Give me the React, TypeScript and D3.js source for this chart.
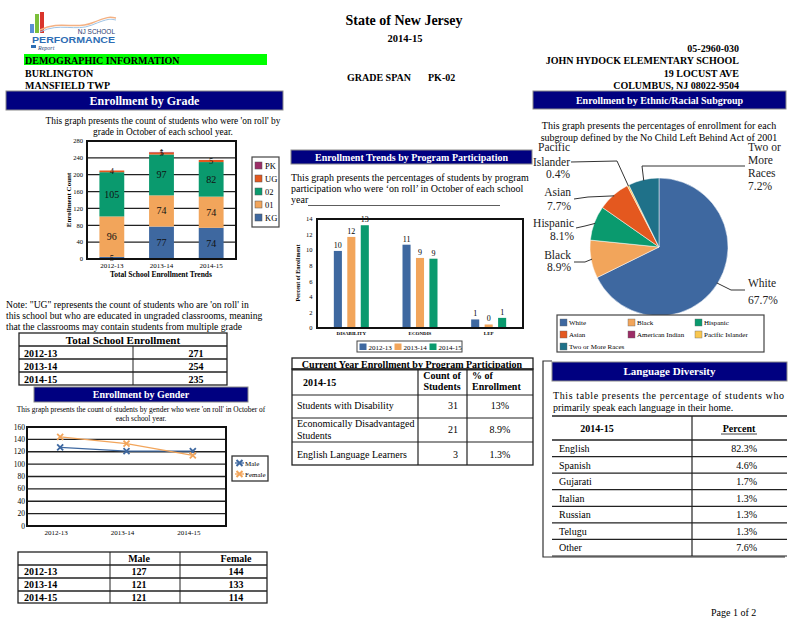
import React from "react";
import * as d3 from "d3";

const FONT = "'Liberation Serif', 'Times New Roman', serif";

// ---------------- DATA ----------------
const years = ["2012-13", "2013-14", "2014-15"];

const gradeKeys = ["KG", "01", "02", "UG", "PK"];
const gradeKG = [5, 77, 74];
const grade01 = [96, 74, 74];
const grade02 = [105, 97, 82];
const gradeUG = [4, 5, 5];
const gradePK = [0, 1, 0];
const gradeTicks = [0, 40, 80, 120, 160, 200, 240, 280];

const totalEnrollment = [271, 254, 235];

const maleCounts = [127, 121, 121];
const femaleCounts = [144, 133, 114];
const genderTicks = [0, 20, 40, 60, 80, 100, 120, 140, 160];

const programCats = ["DISABILITY", "ECONDIS", "LEP"];
const program201213 = [9.9, 10.7, 1.1];
const program201314 = [11.7, 9.0, 0.45];
const program201415 = [13.2, 8.9, 1.3];
const programTicks = [0, 2, 4, 6, 8, 10, 12, 14];

const programRows = ["Students with Disability", "Economically Disadvantaged Students", "English Language Learners"];
const programCounts = [31, 21, 3];
const programPercents = ["13%", "8.9%", "1.3%"];

const ethnicGroups = ["White", "Black", "Hispanic", "Asian", "American Indian", "Pacific Islander", "Two or More Races"];
const ethnicPercents = [67.7, 8.9, 8.1, 7.7, 0, 0.4, 7.2];

const languages = ["English", "Spanish", "Gujarati", "Italian", "Russian", "Telugu", "Other"];
const languagePercents = [82.3, 4.6, 1.7, 1.3, 1.3, 1.3, 7.6];

// ---------------- STYLES ----------------
const NAVY = "#000080";
const gradeColors: Record<string, string> = {
  KG: "#3e68a0",
  "01": "#f2a55b",
  "02": "#0a9a6e",
  UG: "#e4581f",
  PK: "#9c2d66",
};
const yearColors = ["#3e68a0", "#f2a55b", "#0a9a6e"];
const ethnicColors = ["#3e68a0", "#f2a55b", "#0a9a6e", "#e4581f", "#9c2d66", "#f9c74f", "#1f7189"];

function NavyHeader({ x, y, w, h, text, size }: any) {
  return (
    <g>
      <rect x={x} y={y} width={w} height={h} fill={NAVY} stroke="#8a8a8a" strokeWidth={1} />
      <text x={x + w / 2} y={y + h / 2 + size * 0.35} textAnchor="middle" fill="#fff" fontWeight="bold" fontSize={size}>
        {text}
      </text>
    </g>
  );
}

function Header() {
  return (
    <g>
      {/* logo */}
      <rect x={30} y={24} width={4} height={9} fill="#5b8fd6" />
      <rect x={35} y={14} width={4} height={19} fill="#7bbf3a" />
      <rect x={40} y={12} width={4} height={21} fill="#d9342b" />
      <path d="M40,30 C60,20 75,30 92,23 S110,17 116,18" stroke="#f4b183" fill="none" strokeWidth={1.5} />
      <path d="M40,32 C60,22 75,32 92,25 S110,19 116,20" stroke="#9dc3e6" fill="none" strokeWidth={1} />
      <text x={115} y={34} textAnchor="end" fontFamily="Arial, 'Liberation Sans'" fontSize={6.5} fill="#1f3a70">NJ SCHOOL</text>
      <text x={32} y={42.5} fontFamily="Arial, 'Liberation Sans'" fontWeight="bold" fontSize={9.5} fill="#2e6db4" textLength={83} lengthAdjust="spacingAndGlyphs">PERFORMANCE</text>
      <rect x={31} y={45} width={5} height={3} fill="#2e6db4" />
      <text x={38} y={50} fontStyle="italic" fontSize={6} fill="#2e4a7a">Report</text>

      <text x={404} y={25} textAnchor="middle" fontWeight="bold" fontSize={14}>State of New Jersey</text>
      <text x={405} y={42} textAnchor="middle" fontWeight="bold" fontSize={10.5}>2014-15</text>

      <rect x={24} y={54} width={243} height={11} fill="#00ff00" />
      <g fontWeight="bold" fontSize={10}>
        <text x={25} y={64}>DEMOGRAPHIC INFORMATION</text>
        <text x={25} y={76.5}>BURLINGTON</text>
        <text x={25} y={89}>MANSFIELD TWP</text>
        <text x={347} y={81}>GRADE SPAN</text>
        <text x={428} y={81}>PK-02</text>
        <text x={739} y={52} textAnchor="end">05-2960-030</text>
        <text x={739} y={64} textAnchor="end">JOHN HYDOCK ELEMENTARY SCHOOL</text>
        <text x={739} y={76.5} textAnchor="end">19 LOCUST AVE</text>
        <text x={739} y={89} textAnchor="end">COLUMBUS, NJ 08022-9504</text>
      </g>
      <NavyHeader x={6} y={91} w={277} h={19} text="Enrollment by Grade" size={12} />
      <NavyHeader x={533} y={91} w={253} h={18} text="Enrollment by Ethnic/Racial Subgroup" size={10} />
    </g>
  );
}

function GradeChart() {
  const L = 87, R = 236, T = 141, B = 259;
  const x = d3.scaleBand().domain(years).range([L, R]).paddingInner(0.5).paddingOuter(0.25);
  const y = d3.scaleLinear().domain([0, 280]).range([B, T]);
  const rows = years.map((yr, i) => ({ year: yr, KG: gradeKG[i], "01": grade01[i], "02": grade02[i], UG: gradeUG[i], PK: gradePK[i] }));
  const series = d3.stack<any>().keys(gradeKeys)(rows as any);
  const legendKeys = [...gradeKeys].reverse();
  return (
    <g>
      <text x={163} y={124} textAnchor="middle" fontSize={9.4}>This graph presents the count of students who were 'on roll' by</text>
      <text x={163} y={135} textAnchor="middle" fontSize={9.4}>grade in October of each school year.</text>
      {gradeTicks.map((t) => (
        <line key={t} x1={L} x2={R} y1={y(t)} y2={y(t)} stroke="#222" strokeWidth={1.2} />
      ))}
      {series.map((s) =>
        s.map((d, i) => {
          const v = d[1] - d[0];
          if (v <= 0) return null;
          return <rect key={s.key + i} x={x(years[i])} y={y(d[1])} width={x.bandwidth()} height={y(d[0]) - y(d[1])} fill={gradeColors[s.key]} />;
        })
      )}
      {series.map((s) =>
        s.map((d, i) => {
          const v = d[1] - d[0];
          if (v <= 0) return null;
          const small = v < 10;
          return (
            <text key={"t" + s.key + i} x={(x(years[i]) as number) + x.bandwidth() / 2} y={y((d[0] + d[1]) / 2) + (small ? 3 : 3.5)} textAnchor="middle" fontSize={small ? 8.5 : 10} fill="#111">
              {v}
            </text>
          );
        })
      )}
      <rect x={L} y={T} width={R - L} height={B - T} fill="none" stroke="#111" strokeWidth={2} />
      {gradeTicks.map((t) => (
        <text key={"yl" + t} x={83} y={y(t) + 2.3} textAnchor="end" fontSize={6.5}>{t}</text>
      ))}
      {years.map((yr) => (
        <text key={yr} x={(x(yr) as number) + x.bandwidth() / 2} y={267.5} textAnchor="middle" fontSize={7}>{yr}</text>
      ))}
      <text transform={`translate(71,200) rotate(-90)`} textAnchor="middle" fontSize={7} fontWeight="bold">Enrollment Count</text>
      <text x={161} y={277} textAnchor="middle" fontSize={7.5} fontWeight="bold">Total School Enrollment Trends</text>
      <rect x={252} y={157} width={27} height={70} fill="#fff" stroke="#444" strokeWidth={1.2} />
      {legendKeys.map((k, i) => (
        <g key={k}>
          <rect x={255} y={162 + i * 13} width={7} height={7} fill={gradeColors[k]} stroke="#555" strokeWidth={0.5} />
          <text x={265} y={168.5 + i * 13} fontSize={8.5}>{k}</text>
        </g>
      ))}
    </g>
  );
}

function NoteAndTotal() {
  const L = 19, R = 227, mid = 133;
  const rowY = [333, 346, 359, 372, 385];
  return (
    <g>
      <text x={6} y={307.5} fontSize={9.6}>Note: "UG" represents the count of students who are 'on roll' in</text>
      <text x={6} y={318.5} fontSize={9.6}>this school but who are educated in ungraded classrooms, meaning</text>
      <text x={6} y={329.5} fontSize={9.6}>that the classrooms may contain students from multiple grade</text>
      <rect x={L} y={rowY[0]} width={R - L} height={rowY[4] - rowY[0]} fill="none" stroke="#222" strokeWidth={1.3} />
      {rowY.slice(1, 4).map((yy) => (
        <line key={yy} x1={L} x2={R} y1={yy} y2={yy} stroke="#222" strokeWidth={1.3} />
      ))}
      <line x1={mid} x2={mid} y1={rowY[1]} y2={rowY[4]} stroke="#222" strokeWidth={1} />
      <text x={123} y={344} textAnchor="middle" fontWeight="bold" fontSize={11}>Total School Enrollment</text>
      {years.map((yr, i) => (
        <g key={yr} fontWeight="bold" fontSize={10}>
          <text x={24} y={rowY[i + 1] + 10.5}>{yr}</text>
          <text x={196} y={rowY[i + 1] + 10.5} textAnchor="middle">{totalEnrollment[i]}</text>
        </g>
      ))}
    </g>
  );
}

function GenderChart() {
  const L = 27, R = 226, T = 427, B = 526;
  const x = d3.scalePoint().domain(years).range([L, R]).padding(0.5);
  const y = d3.scaleLinear().domain([0, 160]).range([B, T]);
  const line = d3.line<number>().x((_, i) => x(years[i]) as number).y((d) => y(d));
  const xMark = "M-3,-3L3,3M-3,3L3,-3";
  const series = [
    { name: "Male", values: maleCounts, color: "#3e68a0" },
    { name: "Female", values: femaleCounts, color: "#f2a55b" },
  ];
  return (
    <g>
      <NavyHeader x={34} y={387} w={214} h={15} text="Enrollment by Gender" size={10} />
      <text x={141} y={411.5} textAnchor="middle" fontSize={7.4}>This graph presents the count of students by gender who were 'on roll' in October of</text>
      <text x={141} y={421} textAnchor="middle" fontSize={7.4}>each school year.</text>
      {genderTicks.map((t) => (
        <line key={t} x1={L} x2={R} y1={y(t)} y2={y(t)} stroke="#222" strokeWidth={1.3} />
      ))}
      <rect x={L} y={T} width={R - L} height={B - T} fill="none" stroke="#111" strokeWidth={2} />
      {series.map((s) => (
        <g key={s.name}>
          <path d={line(s.values) as string} fill="none" stroke={s.color} strokeWidth={1.3} />
          {s.values.map((v, i) => (
            <path key={i} d={xMark} transform={`translate(${x(years[i])},${y(v)})`} stroke={s.color} strokeWidth={1.8} fill="none" />
          ))}
        </g>
      ))}
      {genderTicks.map((t) => (
        <text key={"l" + t} x={25} y={y(t) + 2.5} textAnchor="end" fontSize={7.5}>{t}</text>
      ))}
      {years.map((yr) => (
        <text key={yr} x={(x(yr) as number) - 4} y={535} textAnchor="middle" fontSize={7}>{yr}</text>
      ))}
      <rect x={232} y={456} width={36} height={25} fill="#fff" stroke="#333" strokeWidth={1.3} />
      {series.map((s, i) => (
        <g key={"lg" + s.name}>
          <line x1={235} x2={244} y1={463 + i * 11} y2={463 + i * 11} stroke={s.color} strokeWidth={1.3} />
          <path d={xMark} transform={`translate(239.5,${463 + i * 11})`} stroke={s.color} strokeWidth={2} fill="none" />
          <text x={245} y={465.5 + i * 11} fontSize={7}>{s.name}</text>
        </g>
      ))}
    </g>
  );
}

function GenderTable() {
  const L = 18, R = 267;
  const rowY = [552, 565, 578, 591, 603];
  const cols = [110, 180];
  return (
    <g>
      <rect x={L} y={rowY[0]} width={R - L} height={rowY[4] - rowY[0]} fill="none" stroke="#222" strokeWidth={1.3} />
      {rowY.slice(1, 4).map((yy) => (
        <line key={yy} x1={L} x2={R} y1={yy} y2={yy} stroke="#222" strokeWidth={1.3} />
      ))}
      {cols.map((c) => (
        <line key={c} x1={c} x2={c} y1={rowY[0]} y2={rowY[4]} stroke="#222" strokeWidth={1} />
      ))}
      <g fontWeight="bold" fontSize={10}>
        <text x={139} y={562} textAnchor="middle">Male</text>
        <text x={236} y={562} textAnchor="middle">Female</text>
        {years.map((yr, i) => (
          <g key={yr}>
            <text x={24} y={rowY[i + 1] + 10}>{yr}</text>
            <text x={139} y={rowY[i + 1] + 10} textAnchor="middle">{maleCounts[i]}</text>
            <text x={236} y={rowY[i + 1] + 10} textAnchor="middle">{femaleCounts[i]}</text>
          </g>
        ))}
      </g>
    </g>
  );
}

function ProgramChart() {
  const L = 317, R = 523, T = 219, B = 328;
  const x0 = d3.scaleBand().domain(programCats).range([L, R]);
  const x1 = d3.scaleBand().domain(years).range([-17.5, 17.5]).paddingInner(0.4);
  const y = d3.scaleLinear().domain([0, 14]).range([B, T]);
  const seriesVals = [program201213, program201314, program201415];
  const fmt = d3.format(".0f");
  return (
    <g>
      <NavyHeader x={291} y={150} w={241} h={14} text="Enrollment Trends by Program Participation" size={10} />
      <text x={291} y={181} fontSize={10}>This graph presents the percentages of students by program</text>
      <text x={291} y={192} fontSize={10}>participation who were ‘on roll’ in October of each school</text>
      <text x={291} y={202.5} fontSize={10}>year</text>
      <line x1={308} x2={500} y1={205.5} y2={205.5} stroke="#333" strokeWidth={0.8} />
      {seriesVals.map((vals, si) =>
        vals.map((v, ci) => {
          const cx = (x0(programCats[ci]) as number) + x0.bandwidth() / 2 + (x1(years[si]) as number);
          return (
            <g key={si + "-" + ci}>
              <rect x={cx} y={y(v)} width={x1.bandwidth()} height={B - y(v)} fill={yearColors[si]} />
              <text x={cx + x1.bandwidth() / 2} y={y(v) - 3} textAnchor="middle" fontSize={8}>{fmt(v)}</text>
            </g>
          );
        })
      )}
      <rect x={L} y={T} width={R - L} height={B - T} fill="none" stroke="#111" strokeWidth={2} />
      {programTicks.map((t) => (
        <text key={t} x={312.5} y={y(t) + 2.3} textAnchor="end" fontSize={6.5}>{t}</text>
      ))}
      {programCats.map((c) => (
        <text key={c} x={(x0(c) as number) + x0.bandwidth() / 2} y={334.5} textAnchor="middle" fontSize={5} fontWeight="bold">{c}</text>
      ))}
      <text transform="translate(300,273) rotate(-90)" textAnchor="middle" fontSize={6} fontWeight="bold">Percent of Enrollment</text>
      <rect x={357} y={341} width={105} height={11} fill="#fff" stroke="#444" strokeWidth={1} />
      {years.map((yr, i) => (
        <g key={yr}>
          <rect x={359.5 + i * 35} y={343.5} width={7} height={6.5} fill={yearColors[i]} />
          <text x={368.5 + i * 35} y={349.5} fontSize={7}>{yr}</text>
        </g>
      ))}
    </g>
  );
}

function ProgramTable() {
  const L = 292, R = 533;
  const c1 = 418, c2 = 467;
  const rowY = [369, 395, 418, 442, 465];
  return (
    <g>
      <rect x={L} y={358} width={R - L} height={11} fill="none" stroke="#222" strokeWidth={1.3} />
      <text x={412} y={367.5} textAnchor="middle" fontWeight="bold" fontSize={10}>Current Year Enrollment by Program Participation</text>
      <rect x={L} y={rowY[0]} width={R - L} height={rowY[4] - rowY[0]} fill="none" stroke="#222" strokeWidth={1.3} />
      <line x1={L} x2={R} y1={rowY[0] + 0.8} y2={rowY[0] + 0.8} stroke="#222" strokeWidth={1.3} />
      {rowY.slice(1, 4).map((yy) => (
        <line key={yy} x1={L} x2={R} y1={yy} y2={yy} stroke="#222" strokeWidth={1.2} />
      ))}
      {[c1, c2].map((c) => (
        <line key={c} x1={c} x2={c} y1={rowY[0]} y2={rowY[4]} stroke="#222" strokeWidth={1.2} />
      ))}
      <g fontWeight="bold" fontSize={10}>
        <text x={303} y={386}>2014-15</text>
        <text x={442} y={379} textAnchor="middle">Count of</text>
        <text x={442} y={390} textAnchor="middle">Students</text>
        <text x={472} y={379}>% of</text>
        <text x={472} y={390}>Enrollment</text>
      </g>
      <g fontSize={10}>
        <text x={297} y={409}>{programRows[0]}</text>
        <text x={297} y={427}>Economically Disadvantaged</text>
        <text x={297} y={438.5}>Students</text>
        <text x={297} y={458}>{programRows[2]}</text>
        {programCounts.map((c, i) => (
          <text key={i} x={458} y={[409, 433, 458][i]} textAnchor="end">{c}</text>
        ))}
        {programPercents.map((p, i) => (
          <text key={"p" + i} x={500} y={[409, 433, 458][i]} textAnchor="middle">{p}</text>
        ))}
      </g>
    </g>
  );
}

function PieChart() {
  const cx = 659, cy = 247, r = 69;
  const pie = d3.pie<number>().sort(null).value((d) => d);
  const arcs = pie(ethnicPercents);
  const arc = d3.arc<any>().innerRadius(0).outerRadius(r);
  const fmt = (v: number) => d3.format(".1f")(v) + "%";
  const pt = (a: number, rr: number) => [cx + rr * Math.sin(a), cy - rr * Math.cos(a)];
  // label layout: elbow point, end point, text anchor position and lines
  const layout: Record<string, any> = {
    White: { elbow: [731, 290], end: [745, 290], tx: 748, ty: [287, 304], anchor: "start", lines: ["White"] },
    Black: { elbow: [585, 262], end: [574, 262], tx: 571, ty: [259, 271], anchor: "end", lines: ["Black"] },
    Hispanic: { elbow: [585, 226], end: [576, 228], tx: 574, ty: [227, 240], anchor: "end", lines: ["Hispanic"] },
    Asian: { elbow: [588, 197], end: [574, 199], tx: 571, ty: [196, 210], anchor: "end", lines: ["Asian"] },
    "Pacific Islander": { elbow: [617, 161], end: [571, 162], tx: 570, ty: [151, 166, 178], anchor: "end", lines: ["Pacific", "Islander"] },
    "Two or More Races": { elbow: [642, 166], end: [745, 166], tx: 748, ty: [151, 164, 177, 190], anchor: "start", lines: ["Two or", "More", "Races"] },
  };
  return (
    <g>
      <text x={659} y={129} textAnchor="middle" fontSize={10}>This graph presents the percentages of enrollment for each</text>
      <text x={659} y={141} textAnchor="middle" fontSize={10}>subgroup defined by the No Child Left Behind Act of 2001</text>
      <g transform={`translate(${cx},${cy})`}>
        {arcs.map((a, i) =>
          a.value > 0 ? <path key={i} d={arc(a) as string} fill={ethnicColors[i]} stroke="#fff" strokeWidth={0.5} /> : null
        )}
      </g>
      {arcs.map((a, i) => {
        const name = ethnicGroups[i];
        const lay = layout[name];
        if (!lay || a.value <= 0) return null;
        const mid = (a.startAngle + a.endAngle) / 2;
        const p0 = pt(mid, r - 1);
        const pts = [p0, lay.elbow, lay.end];
        const texts = [...lay.lines, fmt(ethnicPercents[i])];
        return (
          <g key={name}>
            <polyline points={pts.map((p: number[]) => p.join(",")).join(" ")} fill="none" stroke="#333" strokeWidth={1} />
            {texts.map((t: string, j: number) => (
              <text key={j} x={lay.tx} y={lay.ty[j]} textAnchor={lay.anchor} fontSize={11.5} fill="#222">{t}</text>
            ))}
          </g>
        );
      })}
      <rect x={557} y={315} width={207} height={37} fill="#fff" stroke="#444" strokeWidth={1.2} />
      {ethnicGroups.map((g, i) => {
        const col = i % 3, row = Math.floor(i / 3);
        const lx = [560, 628, 695][col];
        const ly = 319 + row * 12;
        return (
          <g key={g}>
            <rect x={lx} y={ly} width={7} height={7} fill={ethnicColors[i]} stroke="#666" strokeWidth={0.4} />
            <text x={lx + 9} y={ly + 6.3} fontSize={7}>{g}</text>
          </g>
        );
      })}
    </g>
  );
}

function LanguageTable() {
  const L = 552, R = 787, mid = 692;
  const top = 416, headB = 440;
  const rowH = (556 - headB) / languages.length;
  return (
    <g>
      <polyline points="552,361 543,361 543,557 785,557" fill="none" stroke="#333" strokeWidth={1.2} />
      <NavyHeader x={552} y={362} w={235} h={19} text="Language Diversity" size={11} />
      <text x={553} y={399} fontSize={10} textLength={231} lengthAdjust="spacing">This table presents the percentage of students who</text>
      <text x={553} y={410.5} fontSize={10}>primarily speak each language in their home.</text>
      <line x1={L} x2={R} y1={top} y2={top} stroke="#222" strokeWidth={1.3} />
      <line x1={L} x2={R} y1={headB} y2={headB} stroke="#222" strokeWidth={1.3} />
      <line x1={mid} x2={mid} y1={top} y2={556} stroke="#222" strokeWidth={1.2} />
      {languages.map((lang, i) => (
        <g key={lang}>
          <line x1={L} x2={R} y1={headB + (i + 1) * rowH} y2={headB + (i + 1) * rowH} stroke="#222" strokeWidth={1.2} />
          <text x={559} y={headB + i * rowH + 12} fontSize={10}>{lang}</text>
          <text x={757} y={headB + i * rowH + 12} textAnchor="end" fontSize={10}>{d3.format(".1f")(languagePercents[i])}%</text>
        </g>
      ))}
      <text x={597} y={432} textAnchor="middle" fontWeight="bold" fontSize={10}>2014-15</text>
      <text x={739} y={432} textAnchor="middle" fontWeight="bold" fontSize={10}>Percent</text>
      <line x1={721} x2={757} y1={434} y2={434} stroke="#111" strokeWidth={0.8} />
      <text x={711} y={616} fontSize={10}>Page 1 of 2</text>
    </g>
  );
}

export default function App() {
  return (
    <svg width={800} height={618} style={{ position: "absolute", left: 0, top: 0, background: "#fff" }} fontFamily={FONT}>
      <rect width={800} height={618} fill="#fff" />
      <Header />
      <GradeChart />
      <NoteAndTotal />
      <GenderChart />
      <GenderTable />
      <ProgramChart />
      <ProgramTable />
      <PieChart />
      <LanguageTable />
    </svg>
  );
}
